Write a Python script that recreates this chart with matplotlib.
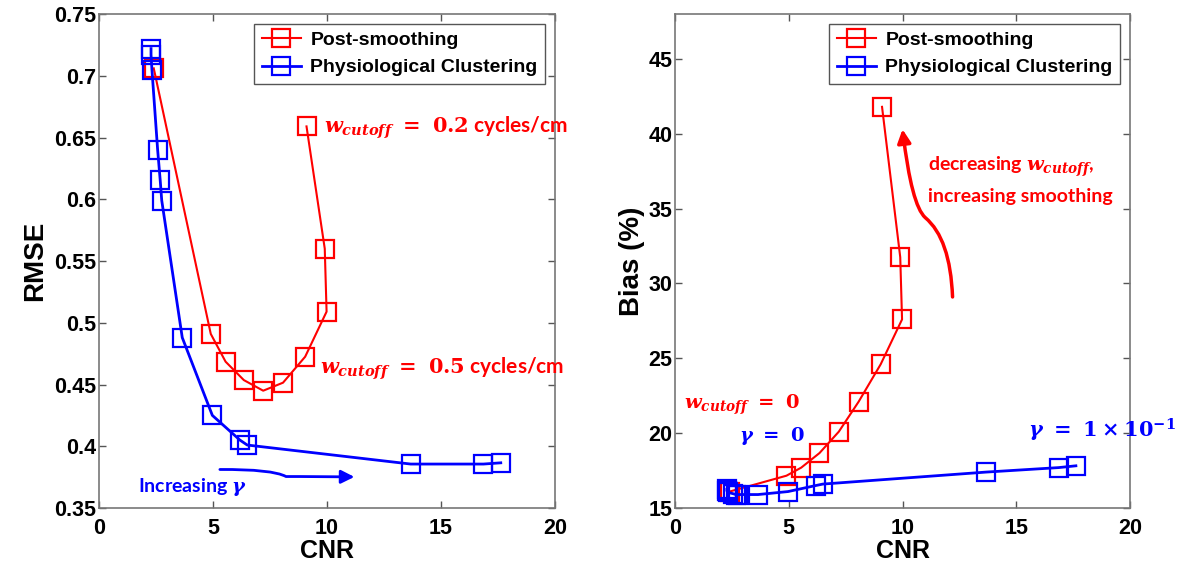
import numpy as np
import matplotlib
matplotlib.use('Agg')
import matplotlib.pyplot as plt
from matplotlib.patches import FancyArrowPatch
from matplotlib.path import Path

plt.rcParams['font.family'] = 'Liberation Sans'
plt.rcParams['font.weight'] = 'bold'
plt.rcParams['mathtext.fontset'] = 'custom'
plt.rcParams['mathtext.it'] = 'DejaVu Serif:italic:bold'
plt.rcParams['mathtext.rm'] = 'DejaVu Serif:bold'
plt.rcParams['mathtext.bf'] = 'DejaVu Serif:bold'

# CNR values (shared by both panels)
cnr_post = [2.4, 4.9, 5.55, 6.35, 7.2, 8.07, 9.04, 9.98, 9.9, 9.1]
cnr_phys = [2.28, 2.28, 2.32, 2.57, 2.68, 2.75, 3.65, 4.97, 6.18, 6.5, 13.67, 16.86, 17.62]

# RMSE
rmse_post = [0.706, 0.491, 0.4685, 0.4536, 0.445, 0.4515, 0.4725, 0.509, 0.560, 0.659]
rmse_phys = [0.722, 0.717, 0.705, 0.640, 0.616, 0.599, 0.488, 0.425, 0.405, 0.401, 0.3856, 0.3856, 0.3866]

# Bias (%)
bias_post = [16.1, 17.16, 17.7, 18.67, 20.1, 22.1, 24.6, 27.6, 31.76, 41.8]
bias_phys = [16.25, 16.15, 16.05, 15.95, 15.9, 15.9, 15.9, 16.1, 16.5, 16.6, 17.4, 17.7, 17.82]

RED = '#ff0000'
BLUE = '#0000ff'

fig = plt.figure(figsize=(11.89, 5.68), dpi=100)
ax1 = fig.add_axes([0.0833, 0.1056, 0.3835, 0.8697])
ax2 = fig.add_axes([0.5677, 0.1056, 0.3827, 0.8697])

mk = dict(marker='s', markersize=13, markerfacecolor='none', markeredgewidth=1.6)


def style(ax):
    ax.tick_params(direction='in', top=True, right=True, length=5, labelsize=15.5,
                   color='#555555', width=1)
    ax.tick_params(axis='x', pad=7)
    ax.tick_params(axis='y', pad=2)
    for s in ax.spines.values():
        s.set_color('#777777')
        s.set_linewidth(1.2)
    for lab in ax.get_xticklabels() + ax.get_yticklabels():
        lab.set_fontweight('bold')
    ax.set_xlim(0, 20)
    ax.set_xticks([0, 5, 10, 15, 20])
    ax.set_xlabel('CNR', fontsize=18, fontweight='bold', labelpad=0)
    leg = ax.legend(loc='upper right', handlelength=2.0, handletextpad=0.5,
                    borderaxespad=0.5, fancybox=False, framealpha=1,
                    prop={'weight': 'bold', 'size': 14})
    leg.get_frame().set_edgecolor('#555555')


# left panel
ax1.plot(cnr_post, rmse_post, color=RED, lw=1.5, label='Post-smoothing', **mk)
ax1.plot(cnr_phys, rmse_phys, color=BLUE, lw=2, label='Physiological Clustering', **mk)
ax1.set_ylim(0.35, 0.75)
ax1.set_yticks([0.35, 0.4, 0.45, 0.5, 0.55, 0.6, 0.65, 0.7, 0.75])
ax1.set_yticklabels(['0.35', '0.4', '0.45', '0.5', '0.55', '0.6', '0.65', '0.7', '0.75'])
ax1.set_ylabel('RMSE', fontsize=20, fontweight='bold', labelpad=4)
style(ax1)

ax1.text(9.85, 0.658, r'$w_{cutoff}\ =\ 0.2$' + ' cycles/cm', color=RED, fontsize=15,
         va='center', ha='left', family='Lato', fontweight='bold', clip_on=False)
ax1.text(9.7, 0.463, r'$w_{cutoff}\ =\ 0.5$' + ' cycles/cm', color=RED, fontsize=15,
         va='center', ha='left', family='Lato', fontweight='bold', clip_on=False)
ax1.text(1.7, 0.367, 'Increasing ' + r'$\gamma$', color=BLUE, fontsize=14,
         va='center', ha='left', family='Lato', fontweight='bold')

verts = [(5.3, 0.3812), (7.6, 0.3815), (8.2, 0.3755), (8.8, 0.3755), (11.2, 0.3752)]
codes = [Path.MOVETO, Path.CURVE3, Path.CURVE3, Path.LINETO, Path.LINETO]
ax1.add_patch(FancyArrowPatch(path=Path(verts, codes), arrowstyle='-|>,head_length=8,head_width=4',
                              color=BLUE, lw=2))

# right panel
ax2.plot(cnr_post, bias_post, color=RED, lw=1.5, label='Post-smoothing', **mk)
ax2.plot(cnr_phys, bias_phys, color=BLUE, lw=2, label='Physiological Clustering', **mk)
ax2.set_ylim(15, 48)
ax2.set_yticks([15, 20, 25, 30, 35, 40, 45])
ax2.set_ylabel('Bias (%)', fontsize=20, fontweight='bold', labelpad=2)
style(ax2)

ax2.text(11.1, 37.8, 'decreasing ' + r'$w_{cutoff}$' + ',', color=RED, fontsize=14,
         va='center', ha='left', family='Lato', fontweight='bold')
ax2.text(11.1, 35.8, 'increasing smoothing', color=RED, fontsize=14,
         va='center', ha='left', family='Lato', fontweight='bold')
ax2.text(0.4, 21.9, r'$w_{cutoff}\ =\ 0$', color=RED, fontsize=14, va='center', ha='left')
ax2.text(2.8, 19.8, r'$\gamma\ =\ 0$', color=BLUE, fontsize=14, va='center', ha='left')
ax2.text(15.5, 20.2, r'$\gamma\ =\ 1\times10^{-1}$', color=BLUE, fontsize=15,
         va='center', ha='left', clip_on=False)

verts2 = [(12.2, 29.1), (12.1, 33.0), (11.0, 34.4), (10.4, 35.2), (10.0, 40.3)]
codes2 = [Path.MOVETO, Path.CURVE3, Path.CURVE3, Path.CURVE3, Path.CURVE3]
ax2.add_patch(FancyArrowPatch(path=Path(verts2, codes2), arrowstyle='-|>,head_length=8,head_width=4',
                              color=RED, lw=2.5))

fig.savefig('out.png', dpi=100)
